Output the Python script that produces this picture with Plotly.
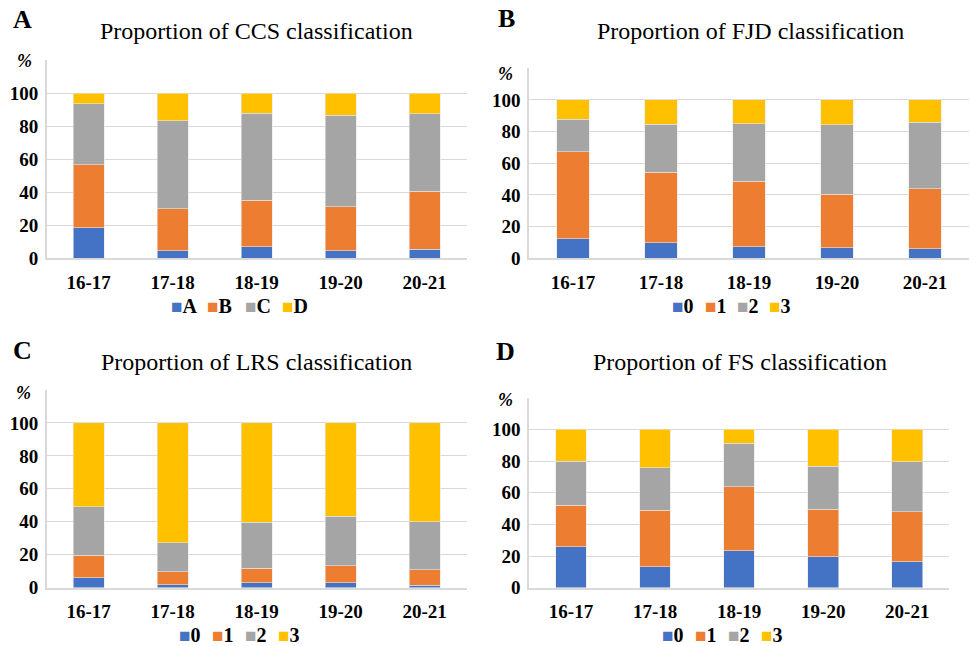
import plotly.graph_objects as go

years = ["16-17", "17-18", "18-19", "19-20", "20-21"]

# Panel A: CCS classification (segment sizes, %)
ccs_A = [18.5, 4.6, 7.0, 4.6, 5.6]
ccs_B = [38.2, 25.4, 28.0, 26.6, 35.0]
ccs_C = [36.9, 53.3, 52.9, 55.3, 46.9]
ccs_D = [6.4, 16.7, 12.1, 13.5, 12.5]

# Panel B: FJD classification
fjd_0 = [12.2, 9.9, 7.2, 6.7, 6.1]
fjd_1 = [55.2, 44.4, 41.4, 33.9, 37.7]
fjd_2 = [20.4, 30.5, 36.5, 43.6, 42.1]
fjd_3 = [12.2, 15.2, 14.9, 15.8, 14.1]

# Panel C: LRS classification
lrs_0 = [6.0, 1.8, 3.0, 3.0, 1.4]
lrs_1 = [13.8, 7.9, 8.7, 10.3, 9.5]
lrs_2 = [29.4, 17.7, 28.0, 30.2, 29.0]
lrs_3 = [50.8, 72.6, 60.3, 56.5, 60.1]

# Panel D: FS classification
fs_0 = [25.9, 13.1, 23.2, 19.4, 16.4]
fs_1 = [26.1, 35.7, 40.4, 30.1, 31.6]
fs_2 = [27.8, 27.0, 27.6, 27.3, 31.6]
fs_3 = [20.2, 24.2, 8.8, 23.2, 20.4]

colors = ["#4472C4", "#ED7D31", "#A5A5A5", "#FFC000"]
yticks = [0, 20, 40, 60, 80, 100, 120]

panels = [
    dict(title="Proportion of CCS classification", letter="A",
         names=["A", "B", "C", "D"], series=[ccs_A, ccs_B, ccs_C, ccs_D],
         xd=[46.7, 466.7], yd=[60, 258.3], title_xy=(256, 31), letter_xy=(22, 20),
         pct_xy=(24, 61), legend_x=[172, 208, 246, 283], legend_y=306),
    dict(title="Proportion of FJD classification", letter="B",
         names=["0", "1", "2", "3"], series=[fjd_0, fjd_1, fjd_2, fjd_3],
         xd=[529, 969], yd=[68.3, 258.3], title_xy=(750, 31), letter_xy=(506, 19),
         pct_xy=(505, 74), legend_x=[673, 706, 738, 770], legend_y=306),
    dict(title="Proportion of LRS classification", letter="C",
         names=["0", "1", "2", "3"], series=[lrs_0, lrs_1, lrs_2, lrs_3],
         xd=[46.7, 466.7], yd=[390, 587.7], title_xy=(256, 362), letter_xy=(22, 351),
         pct_xy=(23, 393), legend_x=[180, 213, 246, 279], legend_y=635),
    dict(title="Proportion of FS classification", letter="D",
         names=["0", "1", "2", "3"], series=[fs_0, fs_1, fs_2, fs_3],
         xd=[529, 949.3], yd=[397.7, 587.7], title_xy=(740, 362), letter_xy=(505, 352),
         pct_xy=(505, 400), legend_x=[663, 696, 729, 762], legend_y=635),
]

W, H = 970, 646
YS = 1 / 0.983  # vertical compensation for the capture


def py(v):
    return 1 - (v * YS) / H


fig = go.Figure()
annotations = []
layout = {}
serif = "Liberation Serif"
tickfont = dict(family=serif, size=19, color="black", weight="bold")

for i, p in enumerate(panels):
    k = "" if i == 0 else str(i + 1)
    xa, ya = "x" + k, "y" + k
    for name, vals, col in zip(p["names"], p["series"], colors):
        fig.add_trace(go.Bar(x=years, y=vals, name=name, xaxis=xa, yaxis=ya,
                             marker=dict(color=col, line=dict(color="#e6e6e6", width=0.6)),
                             width=0.365, showlegend=False))
    layout["xaxis" + k] = dict(domain=[p["xd"][0] / W, p["xd"][1] / W], anchor=ya,
                               showline=True, linecolor="#d9d9d9", linewidth=1.5,
                               showgrid=False, ticks="", ticklabelstandoff=6,
                               tickfont=tickfont, fixedrange=True)
    layout["yaxis" + k] = dict(domain=[py(p["yd"][1]), py(p["yd"][0])], anchor=xa,
                               range=[0, 120], tickvals=yticks,
                               ticktext=["%d" % v if v <= 100 else "" for v in yticks],
                               showline=True, linecolor="#d9d9d9", linewidth=1.5,
                               showgrid=True, gridcolor="#d9d9d9", gridwidth=1,
                               zeroline=False, ticks="", ticklabelstandoff=3,
                               tickfont=tickfont, fixedrange=True)
    annotations.append(dict(text=p["title"], x=p["title_xy"][0] / W, y=py(p["title_xy"][1]),
                            xref="paper", yref="paper", showarrow=False,
                            xanchor="center", yanchor="middle",
                            font=dict(family=serif, size=24, color="black")))
    annotations.append(dict(text=p["letter"], x=p["letter_xy"][0] / W,
                            y=py(p["letter_xy"][1]),
                            xref="paper", yref="paper", showarrow=False,
                            xanchor="center", yanchor="middle",
                            font=dict(family=serif, size=26, color="black", weight="bold")))
    annotations.append(dict(text="%", x=p["pct_xy"][0] / W, y=py(p["pct_xy"][1]),
                            xref="paper", yref="paper",
                            showarrow=False, xanchor="center", yanchor="middle",
                            font=dict(family=serif, size=18, color="black",
                                      weight="bold", style="italic")))
    # legend entries (colour swatch + label)
    for name, col, lx in zip(p["names"], colors, p["legend_x"]):
        annotations.append(dict(
            text="<span style='color:%s;font-size:19px'>■</span>%s" % (col, name),
            x=(lx - 3) / W, y=py(p["legend_y"]), xref="paper", yref="paper",
            showarrow=False, xanchor="left", yanchor="middle",
            font=dict(family=serif, size=20, color="black", weight="bold")))

fig.update_layout(width=W, height=H, margin=dict(l=0, r=0, t=0, b=0),
                  plot_bgcolor="white", paper_bgcolor="white", showlegend=False,
                  barmode="stack", annotations=annotations, **layout)

fig.write_html("out.html", config={"displayModeBar": False},
               post_script=("document.documentElement.style.overflow='hidden';"
                            "document.body.style.margin='0';document.body.style.padding='0';"
                            "document.body.style.overflow='hidden';"
                            "document.body.style.height='646px';"))
